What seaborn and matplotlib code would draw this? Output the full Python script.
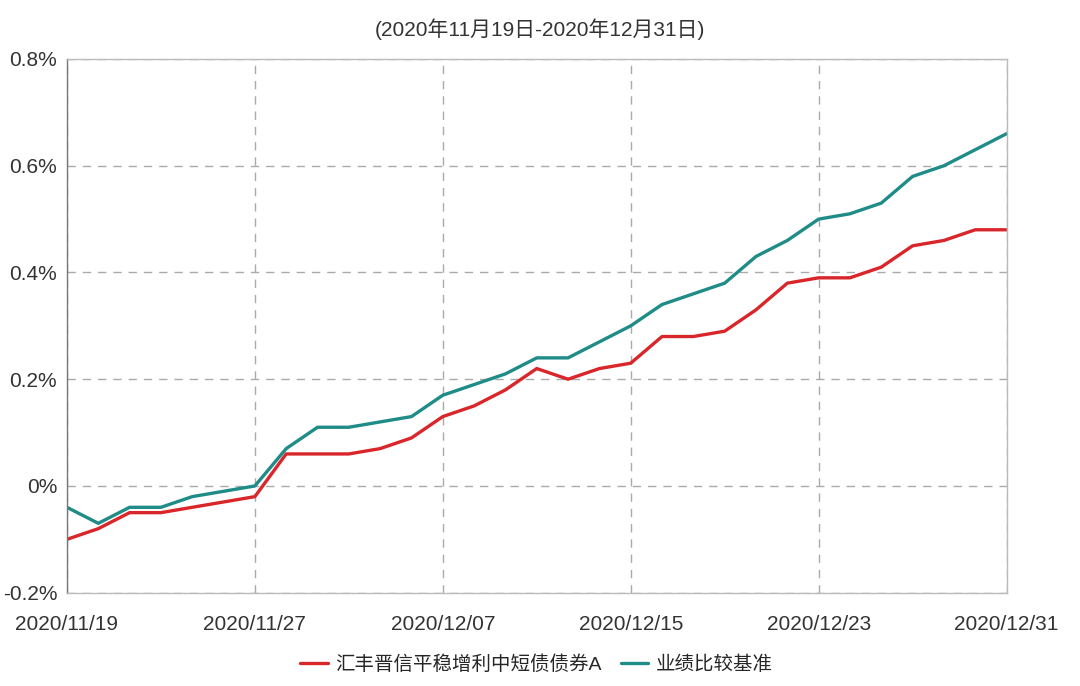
import pandas as pd
import seaborn as sns
import matplotlib.pyplot as plt
from matplotlib.ticker import FuncFormatter

# trading days 2020/11/19 - 2020/12/31
dates = ['2020/11/19', '2020/11/20', '2020/11/23', '2020/11/24', '2020/11/25', '2020/11/26',
         '2020/11/27', '2020/11/30', '2020/12/01', '2020/12/02', '2020/12/03', '2020/12/04',
         '2020/12/07', '2020/12/08', '2020/12/09', '2020/12/10', '2020/12/11', '2020/12/14',
         '2020/12/15', '2020/12/16', '2020/12/17', '2020/12/18', '2020/12/21', '2020/12/22',
         '2020/12/23', '2020/12/24', '2020/12/25', '2020/12/28', '2020/12/29', '2020/12/30',
         '2020/12/31']
fund = [-0.10, -0.08, -0.05, -0.05, -0.04, -0.03, -0.02, 0.06, 0.06, 0.06, 0.07, 0.09,
        0.13, 0.15, 0.18, 0.22, 0.20, 0.22, 0.23, 0.28, 0.28, 0.29, 0.33, 0.38,
        0.39, 0.39, 0.41, 0.45, 0.46, 0.48, 0.48]
bench = [-0.04, -0.07, -0.04, -0.04, -0.02, -0.01, 0.00, 0.07, 0.11, 0.11, 0.12, 0.13,
         0.17, 0.19, 0.21, 0.24, 0.24, 0.27, 0.30, 0.34, 0.36, 0.38, 0.43, 0.46,
         0.50, 0.51, 0.53, 0.58, 0.60, 0.63, 0.66]
fund_name = '汇丰晋信平稳增利中短债债券A'
bench_name = '业绩比较基准'
tick_dates = ['2020/11/19', '2020/11/27', '2020/12/07', '2020/12/15', '2020/12/23', '2020/12/31']
yticks = [-0.2, 0.0, 0.2, 0.4, 0.6, 0.8]

sns.set_style('white')
plt.rcParams['font.family'] = ['Liberation Sans', 'Noto Sans CJK SC', 'DejaVu Sans']

df = pd.DataFrame({'idx': range(len(dates)), fund_name: fund, bench_name: bench})
long = df.melt(id_vars='idx', var_name='series', value_name='ret')

fig = plt.figure(figsize=(10.8, 6.86), dpi=100)
ax = fig.add_axes([0.062, 0.136, 0.870, 0.778])
sns.lineplot(data=long, x='idx', y='ret', hue='series',
             palette={fund_name: '#d9262a', bench_name: '#1f8c87'},
             lw=2.4, ax=ax)

ax.set_xlim(0, len(dates) - 1)
ax.set_ylim(-0.2, 0.8)
ax.set_xticks([dates.index(d) for d in tick_dates])
ax.set_xticklabels(tick_dates)
ax.set_yticks(yticks)
ax.yaxis.set_major_formatter(FuncFormatter(lambda v, p: '0%' if abs(v) < 1e-9 else f'{v:.1f}%'))
ax.tick_params(axis='both', labelsize=15, colors='#333333', length=0)
ax.tick_params(axis='x', pad=16)
ax.tick_params(axis='y', pad=7)
ax.grid(True, ls=(0, (6, 5)), color='#aaaaaa', lw=1)
for s in ax.spines.values():
    s.set_color('#bbbbbb')
    s.set_linewidth(1)
ax.spines['left'].set_color('#777777')
ax.set_xlabel('')
ax.set_ylabel('')

fig.text(0.5, 0.958, '(2020年11月19日-2020年12月31日)', ha='center', va='center',
         fontsize=15, color='#333333')
ax.legend(loc='center', bbox_to_anchor=(0.5, -0.135), ncol=2, frameon=False,
          fontsize=14, handlelength=1.4, handletextpad=0.4, columnspacing=1.0)

fig.savefig('out.png', dpi=100)
